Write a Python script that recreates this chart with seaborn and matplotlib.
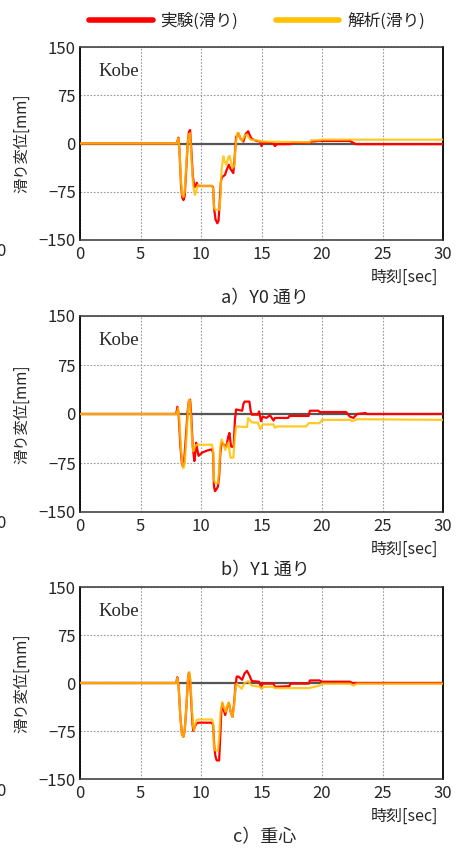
import numpy as np
import pandas as pd
import matplotlib
matplotlib.use("Agg")
import matplotlib.pyplot as plt
import seaborn as sns

# Data (time [sec], slip displacement [mm])
a_exp_t = [0, 8.0, 8.13, 8.22, 8.35, 8.45, 8.55, 8.65, 8.78, 8.9, 9.0, 9.1, 9.2, 9.32, 9.45, 9.55, 9.65,
           9.75, 10.9, 11.0, 11.08, 11.2, 11.35, 11.45, 11.55, 11.65, 11.75, 11.98, 12.1, 12.3, 12.45,
           12.67, 12.75, 12.9, 13.08, 13.25, 13.5, 13.7, 13.9, 14.05, 14.2, 14.6, 14.9, 15.0, 15.1,
           15.5, 16.0, 16.1, 16.3, 17.4, 17.5, 19.0, 19.1, 19.8, 22.3, 22.8, 30]
a_exp_v = [0, 0, 9, -10, -65, -84, -88, -82, -40, 0, 18, 21, -10, -50, -68, -66, -61,
           -66, -66, -68, -100, -118, -124, -120, -90, -58, -52, -49, -42, -33, -40,
           -46, -30, 10, 16, 8, 3, 15, 19, 12, 7, 4, 3, -4, 2,
           1, 0, -4, -1, -1, 1, 1, 3, 4, 4, -1, -1]
a_ana_t = [0, 8.0, 8.13, 8.22, 8.35, 8.45, 8.55, 8.65, 8.78, 8.9, 9.0, 9.1, 9.2, 9.35, 9.5, 9.6,
           9.75, 9.9, 10.9, 11.0, 11.08, 11.2, 11.5, 11.6, 11.7, 11.85, 11.95, 12.1, 12.25, 12.35,
           12.5, 12.6, 12.75, 12.85, 13.0, 13.1, 13.25, 13.4, 13.6, 13.8, 13.95, 14.1, 14.6, 15.0,
           19.0, 19.1, 19.8, 20.0, 30]
a_ana_v = [0, 0, 8, -10, -60, -80, -83, -75, -35, 0, 14, 16, -20, -65, -80, -75,
           -64, -66, -66, -70, -100, -103, -103, -85, -40, -20, -28, -33, -22, -19,
           -30, -38, -35, -5, 16, 16, 8, 4, 12, 14, 9, 6, 5, 3,
           2, 5, 5, 6, 6]

b_exp_t = [0, 7.95, 8.05, 8.15, 8.3, 8.42, 8.5, 8.6, 8.75, 8.9, 9.0, 9.1, 9.2, 9.32, 9.45, 9.53,
           9.6, 9.7, 9.8, 10.1, 10.5, 10.9, 11.0, 11.07, 11.15, 11.25, 11.4, 11.5, 11.6, 11.7, 12.1,
           12.25, 12.35, 12.45, 12.5, 12.7, 12.8, 12.9, 13.4, 13.5, 13.6, 14.0, 14.1, 14.2, 14.7,
           14.8, 14.96, 15.1, 15.4, 15.7, 16.0, 16.1, 17.2, 17.3, 18.9, 19.0, 19.7, 19.8, 22.0,
           22.3, 22.6, 22.9, 23.6, 23.7, 30]
b_exp_v = [0, 0, 11, 0, -50, -75, -80, -74, -35, 5, 20, 22, -5, -50, -72, -60,
           -44, -55, -64, -59, -56, -54, -60, -110, -118, -116, -111, -95, -60, -44, -50,
           -35, -29, -45, -50, -50, -10, 7, 5, 15, 19, 19, 5, -1, -1,
           4, -11, -4, -6, -2, -10, -6, -6, -3, -3, 5, 5, 3, 3,
           -4, -6, 0, 1.5, 0, 0]
b_ana_t = [0, 8.0, 8.1, 8.2, 8.35, 8.47, 8.55, 8.65, 8.8, 8.92, 9.0, 9.05, 9.15, 9.27, 9.37, 9.5,
           9.64, 10.9, 11.0, 11.07, 11.15, 11.4, 11.5, 11.6, 11.7, 11.85, 12.0, 12.15, 12.26, 12.38,
           12.45, 12.67, 12.78, 12.9, 13.8, 13.9, 14.2, 14.7, 14.9, 15.1, 16.0, 16.1, 16.3, 18.7,
           18.9, 19.8, 20.0, 22.3, 22.5, 22.9, 30]
b_ana_v = [0, 0, 9, -5, -55, -80, -83, -75, -35, 5, 20, 22, 0, -40, -57, -50,
           -47, -47, -55, -100, -105, -106, -85, -50, -39, -45, -55, -48, -44, -60,
           -67, -67, -40, -19, -20, -6, -13, -13, -23, -16, -16, -21, -19, -19,
           -14, -14, -9, -9, -11, -8, -9]

c_exp_t = [0, 7.95, 8.04, 8.15, 8.3, 8.43, 8.54, 8.65, 8.8, 8.92, 9.0, 9.08, 9.2, 9.3, 9.37, 9.5,
           9.64, 9.8, 10.9, 11.0, 11.1, 11.2, 11.3, 11.5, 11.6, 11.68, 11.76, 11.88, 12.0, 12.15,
           12.3, 12.45, 12.6, 12.72, 12.85, 12.95, 13.1, 13.4, 13.6, 13.8, 14.0, 14.2, 14.8, 14.96,
           15.1, 15.5, 16.0, 16.1, 17.3, 17.4, 18.9, 19.0, 19.8, 20.0, 22.3, 22.5, 30]
c_exp_v = [0, 0, 9, -5, -55, -80, -84, -75, -35, 5, 16, 10, -30, -65, -75, -68,
           -63, -62, -62, -66, -100, -115, -121, -121, -80, -45, -32, -42, -50, -38,
           -31, -45, -53, -35, -5, 10, 10, 5, 15, 19, 12, 3, 2, -7,
           -1, -1, -1, -6, -5, -1, -1, 4, 4, 2, 2, 0, 0]
c_ana_t = [0, 7.95, 8.04, 8.15, 8.3, 8.43, 8.54, 8.65, 8.8, 8.92, 9.04, 9.12, 9.25, 9.35, 9.42,
           9.52, 9.64, 9.8, 10.9, 11.0, 11.07, 11.15, 11.4, 11.5, 11.62, 11.76, 11.9, 12.04, 12.18,
           12.3, 12.45, 12.6, 12.72, 12.85, 12.95, 13.15, 13.36, 13.6, 13.9, 14.05, 14.2, 14.9,
           15.0, 15.2, 16.0, 16.1, 18.9, 19.8, 20.0, 22.3, 22.6, 22.9, 30]
c_ana_v = [0, 0, 8, -5, -55, -80, -84, -75, -35, 5, 17, 5, -40, -68, -74,
           -65, -58, -57, -57, -62, -100, -105, -106, -85, -45, -30, -38, -45, -35,
           -31, -45, -53, -38, -10, -1, -5, -9, 0, 3, -1, -4, -6,
           -9, -6, -6, -8, -8, -4, -1, -1, -4, -1, -1]

captions = ["a\uff09Y0 通り", "b\uff09Y1 通り", "c\uff09重心"]
series_names = ["実験(滑り)", "解析(滑り)"]
x_ticks = [0, 5, 10, 15, 20, 25, 30]
y_ticks = [-150, -75, 0, 75, 150]

panels = [
    (a_exp_t, a_exp_v, a_ana_t, a_ana_v),
    (b_exp_t, b_exp_v, b_ana_t, b_ana_v),
    (c_exp_t, c_exp_v, c_ana_t, c_ana_v),
]

sns.set_style("white")
plt.rcParams["font.family"] = ["Noto Sans CJK JP", "DejaVu Sans"]

RED = "#FF0000"
YELLOW = "#FFC000"

W, H = 472, 850
fig = plt.figure(figsize=(W / 100, H / 100), dpi=100)

# axes pixel boxes (top, bottom) in the reference
boxes = [(47, 240), (316, 512), (587, 779)]
left_px, right_px = 80, 443

for i, (et, ev, at, av) in enumerate(panels):
    top, bot = boxes[i]
    ax = fig.add_axes([left_px / W, 1 - bot / H, (right_px - left_px) / W, (bot - top) / H])

    df_exp = pd.DataFrame({"t": et, "v": ev})
    df_ana = pd.DataFrame({"t": at, "v": av})

    ax.axhline(0, color="#555555", lw=1.6, zorder=1)
    sns.lineplot(data=df_exp, x="t", y="v", color=RED, lw=1.6, ax=ax,
                 estimator=None, sort=False, zorder=3)
    sns.lineplot(data=df_ana, x="t", y="v", color=YELLOW, lw=1.6, alpha=0.85, ax=ax,
                 estimator=None, sort=False, zorder=4)

    ax.set_xlim(0, 30)
    ax.set_ylim(-150, 150)
    ax.set_xticks(x_ticks)
    ax.set_yticks(y_ticks)
    ax.set_xticklabels([str(x) for x in x_ticks], fontsize=12)
    ax.set_yticklabels(["\u2212150", "\u221275", "0", "75", "150"], fontsize=12)
    ax.tick_params(axis="y", length=0, pad=3)
    ax.tick_params(axis="x", length=0, pad=4)
    ax.grid(True, color="#999999", lw=0.8, ls=(0, (1.5, 1.5)))

    for s in ["left", "right"]:
        ax.spines[s].set_color("black")
        ax.spines[s].set_linewidth(1.3)
    for s in ["top", "bottom"]:
        ax.spines[s].set_color("#444444")
        ax.spines[s].set_linewidth(1.2)
        ax.spines[s].set_linestyle((0, (1, 1)))

    ax.set_xlabel("")
    ax.set_ylabel("滑り変位[mm]", fontsize=11)
    ax.yaxis.set_label_coords((30 - left_px) / (right_px - left_px), 0.5)

    ax.text(0.05, 0.875, "Kobe", transform=ax.transAxes, family="Liberation Serif",
            fontsize=13.5, va="center", ha="left")

    # time label and caption under each panel
    fig.text(438 / W, 1 - (bot + 37) / H, "時刻[sec]", ha="right", va="center", fontsize=11.5)
    fig.text(265 / W, 1 - (bot + 58) / H, captions[i], ha="center", va="center", fontsize=13)
    # cut-off label at the left edge
    fig.text(0.5 / W, 1 - (bot + 12) / H, "0", ha="center", va="center", fontsize=12)

# legend at top
handles = [plt.Line2D([], [], color=RED, lw=4), plt.Line2D([], [], color=YELLOW, lw=4)]
fig.legend(handles, series_names, loc="center", bbox_to_anchor=(257 / W, 1 - 21 / H),
           ncol=2, frameon=False, fontsize=12, handlelength=3.8, handletextpad=0.45,
           columnspacing=2.3)

fig.savefig("out.png", dpi=100)
